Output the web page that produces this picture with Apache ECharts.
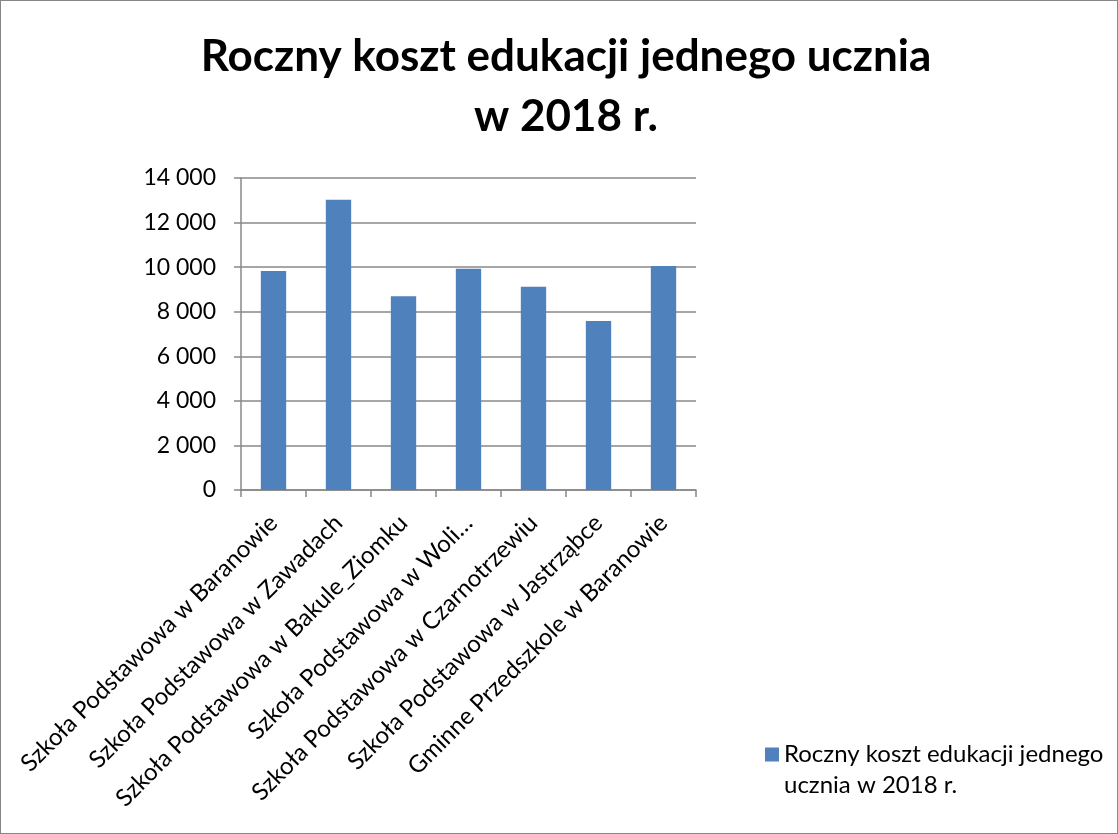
<!DOCTYPE html>
<html>
<head>
<meta charset="utf-8">
<script src="https://cdn.jsdelivr.net/npm/echarts@6/dist/echarts.min.js"></script>
<style>
  html, body { margin: 0; padding: 0; background: #fff; }
  #chart { width: 1118px; height: 834px; box-sizing: border-box; border: 1px solid #868686; }
</style>
</head>
<body>
<div id="chart"></div>
<script>
// dane z wykresu
var categories = [
  'Szkoła Podstawowa w Baranowie',
  'Szkoła Podstawowa w Zawadach',
  'Szkoła Podstawowa w Bakule_Ziomku',
  'Szkoła Podstawowa w Woli…',
  'Szkoła Podstawowa w Czarnotrzewiu',
  'Szkoła Podstawowa w Jastrząbce',
  'Gminne Przedszkole w Baranowie'
];
var koszt = [9830, 13020, 8690, 9930, 9120, 7580, 10050];
var seriesName = 'Roczny koszt edukacji jednego ucznia w 2018 r.';

var font = 'Lato, "Open Sans", sans-serif';
var chart = echarts.init(document.getElementById('chart'));

chart.setOption({
  animation: false,
  title: {
    text: 'Roczny koszt edukacji jednego ucznia\nw 2018 r.',
    left: 560,
    textAlign: 'center',
    top: 21,
    textStyle: { fontFamily: font, fontSize: 44, fontWeight: 'bold', color: '#000', lineHeight: 60 }
  },
  legend: {
    left: 759,
    top: 702,
    itemWidth: 14,
    itemHeight: 14,
    icon: 'rect',
    // pusta pierwsza linia, żeby ikona stała przy pierwszym wierszu
    formatter: function () { return '\nRoczny koszt edukacji jednego\nucznia w 2018 r.'; },
    textStyle: { fontFamily: font, fontSize: 24, color: '#000', lineHeight: 31 }
  },
  grid: { left: 240, right: 421, top: 177, bottom: 343, containLabel: false },
  xAxis: {
    type: 'category',
    data: categories,
    axisLine: { lineStyle: { color: '#888', width: 1.5 } },
    axisTick: { show: true, alignWithLabel: false, length: 7, lineStyle: { color: '#888', width: 1.5 } },
    axisLabel: {
      interval: 0, rotate: 45, margin: 29,
      fontFamily: font, fontSize: 24, color: '#000'
    }
  },
  yAxis: {
    type: 'value',
    min: 0,
    max: 14000,
    interval: 2000,
    axisLine: { show: true, lineStyle: { color: '#888', width: 1.5 } },
    axisTick: { show: true, length: 7, lineStyle: { color: '#888', width: 1.5 } },
    splitLine: { lineStyle: { color: '#888', width: 1.5 } },
    axisLabel: {
      margin: 25,
      fontFamily: font, fontSize: 23, color: '#000',
      formatter: function (v) { return String(v).replace(/\B(?=(\d{3})+(?!\d))/g, ' '); }
    }
  },
  series: [{
    name: seriesName,
    type: 'bar',
    data: koszt,
    barWidth: '39%',
    itemStyle: { color: '#4f81bd' }
  }]
});
</script>
</body>
</html>
